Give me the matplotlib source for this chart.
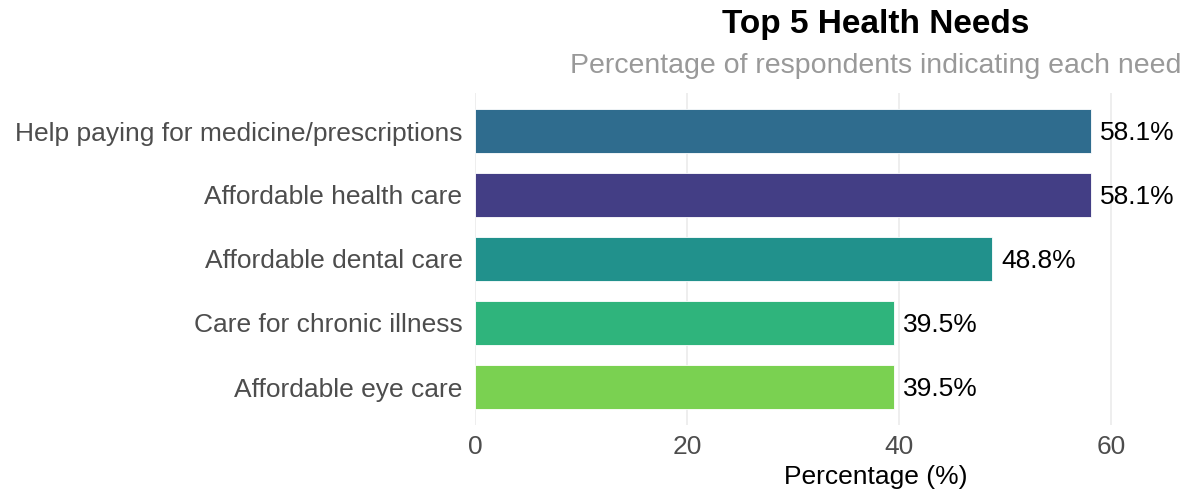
import matplotlib
matplotlib.use("Agg")
import matplotlib.pyplot as plt

plt.rcParams['font.family'] = ['Liberation Sans', 'DejaVu Sans']

# Needs listed bottom to top
needs = [
    "Affordable eye care",
    "Care for chronic illness",
    "Affordable dental care",
    "Affordable health care",
    "Help paying for medicine/prescriptions",
]
percentages = [39.5, 39.5, 48.8, 58.1, 58.1]
bar_colors = ["#7AD151", "#2FB47C", "#21918C", "#433E85", "#2F6C8E"]
x_ticks = [0, 20, 40, 60]

W, H = 1191, 492
fig = plt.figure(figsize=(W / 100, H / 100), dpi=100)
left_px, right_px = 475, 1277
top_px, bottom_px = 92.6, 425.4
ax = fig.add_axes([left_px / W, 1 - bottom_px / H,
                   (right_px - left_px) / W, (bottom_px - top_px) / H])

ypos = list(range(len(needs)))
ax.barh(ypos, percentages, height=0.7, color=bar_colors,
        edgecolor="white", linewidth=0.6, zorder=2)

for y, v in zip(ypos, percentages):
    ax.annotate(f"{v:.1f}%", xy=(v, y), xytext=(6.5, 0), textcoords="offset points",
                ha="left", va="center_baseline", fontsize=19, color="black")

ax.set_xlim(0, (right_px - left_px) / 10.6)
ax.set_ylim(-0.6, len(needs) - 0.4)
ax.set_xticks(x_ticks)
ax.set_xticklabels([str(t) for t in x_ticks])
ax.set_yticks(ypos)
ax.set_yticklabels(needs, va="center_baseline")

ax.grid(axis="x", color="#EBEBEB", linewidth=1.2, zorder=0)
ax.grid(axis="y", visible=False)
for s in ax.spines.values():
    s.set_visible(False)
ax.tick_params(axis="both", length=0, labelsize=19, labelcolor="#4D4D4D")
ax.tick_params(axis="y", pad=9)
ax.tick_params(axis="x", pad=7)

ax.set_xlabel("Percentage (%)", fontsize=19, color="black", labelpad=4)

fig.text(876 / W, 1 - 25 / H, "Top 5 Health Needs", ha="center", va="center",
         fontsize=24, fontweight="bold", color="black")
fig.text(876 / W, 1 - 66 / H, "Percentage of respondents indicating each need",
         ha="center", va="center", fontsize=20.5, color="#999999")

fig.savefig("out.png", dpi=100)
